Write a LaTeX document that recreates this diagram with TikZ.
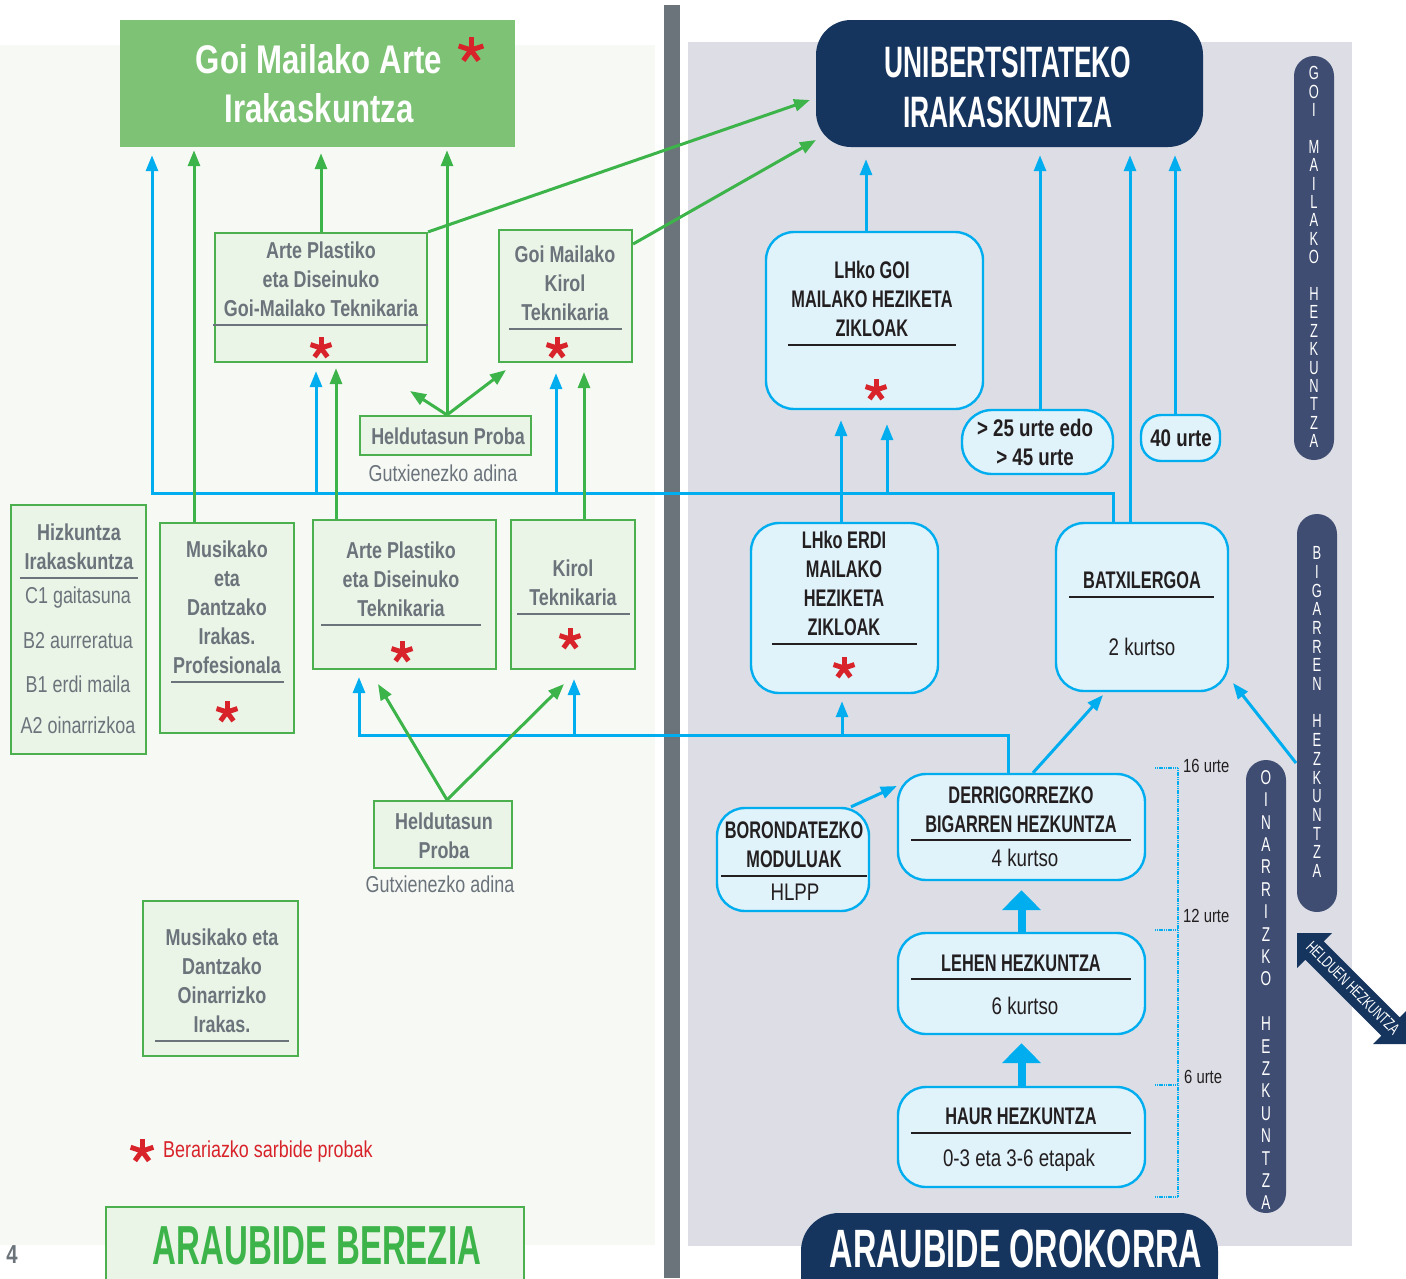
\documentclass[tikz,border=0pt]{standalone}
\usepackage{fontspec}
\setmainfont{Liberation Sans}[FakeStretch=0.78]
\newfontfamily\capf{Liberation Sans}[FakeStretch=0.68]
\newfontfamily\bigf{Liberation Sans}[FakeStretch=0.6]
\usetikzlibrary{arrows.meta}
\definecolor{leftbg}{HTML}{F7F9F5}
\definecolor{rightbg}{HTML}{DCDDE5}
\definecolor{divgray}{HTML}{6B747A}
\definecolor{gfill}{HTML}{EAF4E7}
\definecolor{gline}{HTML}{4CB04F}
\definecolor{gtitle}{HTML}{7EC275}
\definecolor{gtxt}{HTML}{6B737B}
\definecolor{navy}{HTML}{15345E}
\definecolor{barnavy}{HTML}{3F4D72}
\definecolor{cyanl}{HTML}{00AEEF}
\definecolor{cfill}{HTML}{E0F2FA}
\definecolor{astred}{HTML}{D8232A}
\definecolor{dtxt}{HTML}{231F20}
\definecolor{agreen}{HTML}{3DB449}
\newcommand\redstar[3]{%
  \foreach \aa in {270,342,54,126,198}{\draw[astred,line width=5pt,shift={(#1,#2)}] (0,0) -- (\aa:#3);}}
\tikzset{
  gbox/.style={draw=gline, fill=gfill, line width=2.2pt, inner sep=0pt},
  cbox/.style={draw=cyanl, fill=cfill, line width=2.4pt, rounded corners=28pt, inner sep=0pt},
  ltxt/.style={align=center, text=gtxt, font=\bfseries\fontsize{23}{29}\selectfont, inner sep=0pt},
  lreg/.style={align=center, text=gtxt, font=\fontsize{23}{29}\selectfont, inner sep=0pt},
  rtxt/.style={align=center, text=dtxt, font=\capf\bfseries\fontsize{24}{29}\selectfont, inner sep=0pt},
  rreg/.style={align=center, text=dtxt, font=\fontsize{24}{29}\selectfont, inner sep=0pt},
  rbold/.style={align=center, text=dtxt, font=\bfseries\fontsize{24}{29}\selectfont, inner sep=0pt},
  gdiv/.style={draw=gtxt, line width=2.8pt},
  cdiv/.style={draw=dtxt, line width=2.8pt},
  cyarr/.style={draw=cyanl, line width=3pt, -{Triangle[length=16pt,width=12pt]}},
  grarr/.style={draw=agreen, line width=3pt, -{Triangle[length=16pt,width=12pt]}},
  vbar/.style={fill=barnavy, rounded corners=20pt, minimum width=40pt, inner sep=0pt},
  vtxt/.style={align=center, text=white, inner sep=0pt},
  bigarr/.style={draw=cyanl, line width=8pt, -{Triangle[length=20pt,width=38pt]}},
  agetxt/.style={anchor=west, text=dtxt, font=\fontsize{19}{19}\selectfont, inner sep=0pt},
}
\begin{document}
\begin{tikzpicture}[x=1pt,y=-1pt]
\useasboundingbox (0,0) rectangle (1406,1278);
% backgrounds
\fill[leftbg] (0,45) rectangle (655,1245);
\fill[rightbg] (688,42) rectangle (1352,1246);
\fill[divgray] (664,5) rectangle (680,1278);

% ---------- left panel ----------
\node[fill=gtitle, minimum width=395pt, minimum height=127pt, inner sep=0pt] (gma) at (317.5,83.5) {};
\node[align=center, text=white, font=\bfseries\fontsize{40}{49}\selectfont, inner sep=0pt] (gmat) at (319,84) {Goi Mailako Arte\\Irakaskuntza};
\redstar{471}{50}{13}

\node[gbox, minimum width=212pt, minimum height=129pt] (apgm) at (321,297.5) {};
\node[ltxt] (apgmt) at (321,279) {Arte Plastiko\\eta Diseinuko\\Goi-Mailako Teknikaria};
\draw[gdiv] (213,325) -- (428,325);
\redstar{321}{348}{11}

\node[gbox, minimum width=133pt, minimum height=132pt] (gmkt) at (565.5,296) {};
\node[ltxt] (gmktt) at (565,283) {Goi Mailako\\Kirol\\Teknikaria};
\draw[gdiv] (509,329) -- (622,329);
\redstar{557}{348}{11}

\node[gbox, minimum width=171pt, minimum height=39pt] (hp1) at (445.5,435.5) {};
\node[ltxt] (hp1t) at (448,436) {Heldutasun Proba};
\node[lreg] (hp1a) at (443,473) {Gutxienezko adina};

\node[gbox, minimum width=135pt, minimum height=249pt] (hizk) at (78.5,629.5) {};
\node[ltxt] (hizkt) at (79,546.5) {Hizkuntza\\Irakaskuntza};
\draw[gdiv] (20,578) -- (138,578);
\node[lreg] (c1) at (78,598) {C1 gaitasuna};
\node[lreg] (b2) at (78,641) {B2 aurreratua};
\node[lreg] (b1) at (78,684) {B1 erdi maila};
\node[lreg] (a2) at (78,725) {A2 oinarrizkoa};

\node[gbox, minimum width=134pt, minimum height=210pt] (mdp) at (227,628) {};
\node[ltxt] (mdpt) at (227,607.5) {Musikako\\eta\\Dantzako\\Irakas.\\Profesionala};
\draw[gdiv] (171,682) -- (284,682);
\redstar{227}{712}{11}

\node[gbox, minimum width=183pt, minimum height=149pt] (apt) at (404.5,594.5) {};
\node[ltxt] (aptt) at (401,579) {Arte Plastiko\\eta Diseinuko\\Teknikaria};
\draw[gdiv] (321,625) -- (481,625);
\redstar{402}{652}{11}

\node[gbox, minimum width=124pt, minimum height=149pt] (kt) at (573,594.5) {};
\node[ltxt] (ktt) at (573,582.5) {Kirol\\Teknikaria};
\draw[gdiv] (517,614) -- (630,614);
\redstar{570}{639}{11}

\node[gbox, minimum width=138pt, minimum height=67pt] (hp2) at (443,834.5) {};
\node[ltxt] (hp2t) at (444,835.5) {Heldutasun\\Proba};
\node[lreg] (hp2a) at (440,884) {Gutxienezko adina};

\node[gbox, minimum width=155pt, minimum height=155pt] (mdo) at (220.5,978.5) {};
\node[ltxt] (mdot) at (222,981) {Musikako eta\\Dantzako\\Oinarrizko\\Irakas.};
\draw[gdiv] (155,1041) -- (289,1041);

\redstar{142}{1151}{12}
\node[anchor=west, text=astred, font=\fontsize{23}{29}\selectfont, inner sep=0pt] (legend) at (163,1152) {Berariazko sarbide probak};

\node[gbox, minimum width=418pt, minimum height=90pt] (aber) at (315,1252) {};
\node[text=agreen, font=\bigf\bfseries\fontsize{55}{55}\selectfont, inner sep=0pt] (abert) at (317,1246) {ARAUBIDE BEREZIA};
\node[text=gtxt, font=\bfseries\fontsize{26}{26}\selectfont, inner sep=0pt] (pg) at (12,1255) {4};

% ---------- right panel ----------
\node[fill=navy, rounded corners=35pt, minimum width=387pt, minimum height=127pt, inner sep=0pt] (univ) at (1009.5,83.5) {};
\node[align=center, text=white, font=\bigf\bfseries\fontsize{44}{50}\selectfont, inner sep=0pt] (univt) at (1008,87) {UNIBERTSITATEKO\\IRAKASKUNTZA};

\node[cbox, minimum width=217pt, minimum height=177pt] (lgoi) at (874.5,320.5) {};
\node[rtxt] (lgoit) at (872,299) {LHko GOI\\MAILAKO HEZIKETA\\ZIKLOAK};
\draw[cdiv] (788,345) -- (956,345);
\redstar{876}{390}{11}

\node[cbox, rounded corners=30pt, minimum width=151pt, minimum height=64pt] (age25) at (1037.5,442) {};
\node[rbold] (age25t) at (1035,442.5) {> 25 urte edo\\> 45 urte};
\node[cbox, rounded corners=20pt, minimum width=79pt, minimum height=46pt] (age40) at (1180.5,438) {};
\node[rbold] (age40t) at (1181,438) {40 urte};

\node[cbox, minimum width=187pt, minimum height=170pt] (lerdi) at (844.5,608) {};
\node[rtxt] (lerdit) at (844,583.5) {LHko ERDI\\MAILAKO\\HEZIKETA\\ZIKLOAK};
\draw[cdiv] (772,644) -- (917,644);
\redstar{844}{668}{11}

\node[cbox, minimum width=172pt, minimum height=168pt] (batx) at (1142,607) {};
\node[rtxt] (batxt) at (1142,580) {BATXILERGOA};
\draw[cdiv] (1069,597) -- (1214,597);
\node[rreg] (batxk) at (1142,647) {2 kurtso};

\node[cbox, minimum width=152pt, minimum height=103pt] (boron) at (793,859.5) {};
\node[rtxt] (boront) at (794,844.5) {BORONDATEZKO\\MODULUAK};
\draw[cdiv] (721,876) -- (867,876);
\node[rreg] (hlpp) at (795,892) {HLPP};

\node[cbox, minimum width=247pt, minimum height=106pt] (dbh) at (1021.5,827) {};
\node[rtxt] (dbht) at (1021,809.5) {DERRIGORREZKO\\BIGARREN HEZKUNTZA};
\draw[cdiv] (911,840) -- (1131,840);
\node[rreg] (dbhk) at (1025,858) {4 kurtso};

\node[cbox, minimum width=247pt, minimum height=101pt] (lehen) at (1021.5,983.5) {};
\node[rtxt] (lehent) at (1021,963) {LEHEN HEZKUNTZA};
\draw[cdiv] (911,979) -- (1131,979);
\node[rreg] (lehenk) at (1025,1006) {6 kurtso};

\node[cbox, minimum width=247pt, minimum height=100pt] (haur) at (1021.5,1137) {};
\node[rtxt] (haurt) at (1021,1116) {HAUR HEZKUNTZA};
\draw[cdiv] (911,1133) -- (1131,1133);
\node[rreg] (haurk) at (1019,1160) {0-3 eta 3-6 etapak};

\draw[bigarr, shorten >=9pt] (lehen.north) -- (dbh.south);
\draw[bigarr, shorten >=8pt] (haur.north) -- (lehen.south);

\node[fill=navy, rounded corners=38pt, minimum width=417pt, minimum height=100pt, inner sep=0pt] (aob) at (1009.5,1263) {};
\node[text=white, font=\bigf\bfseries\fontsize{54}{54}\selectfont, inner sep=0pt] (aobt) at (1016,1249) {ARAUBIDE OROKORRA};

% vertical bars
\node[vbar, minimum height=404pt] (goibar) at (1314,258) {};
\node[vtxt, font=\capf\fontsize{19}{18.4}\selectfont] (goibart) at (1314,257) {G\\O\\I\\[18.4pt]M\\A\\I\\L\\A\\K\\O\\[18.4pt]H\\E\\Z\\K\\U\\N\\T\\Z\\A};
\node[vbar, minimum height=398pt] (bigbar) at (1317,713) {};
\node[vtxt, font=\capf\fontsize{19}{18.7}\selectfont] (bigbart) at (1317,712) {B\\I\\G\\A\\R\\R\\E\\N\\[18.7pt]H\\E\\Z\\K\\U\\N\\T\\Z\\A};
\node[vbar, minimum height=453pt] (oinbar) at (1266,986.5) {};
\node[vtxt, font=\capf\fontsize{20}{22.4}\selectfont] (oinbart) at (1266,990) {O\\I\\N\\A\\R\\R\\I\\Z\\K\\O\\[22.4pt]H\\E\\Z\\K\\U\\N\\T\\Z\\A};

% helduen hezkuntza double arrow
\fill[navy] (1297,933) -- (1332,933) -- (1323.7,941.3) -- (1399.7,1017.3) -- (1408,1009) -- (1408,1044) -- (1373,1044) -- (1381.3,1035.7) -- (1305.3,959.7) -- (1297,968) -- cycle;
\node[rotate=-45, text=white, font=\capf\fontsize{16.5}{16.5}\selectfont, inner sep=0pt] (helduen) at (1353,988) {HELDUEN HEZKUNTZA};

% age bracket
\draw[cyanl, line width=2pt, dash pattern=on 1.2pt off 0.6pt] (1178,768) -- (1178,1197);
\foreach \yy in {768,930,1085,1197}{\draw[cyanl, line width=2pt, dash pattern=on 1.2pt off 0.6pt] (1155,\yy) -- (1178,\yy);}
\node[agetxt] (a16) at (1183,766) {16 urte};
\node[agetxt] (a12) at (1183,916) {12 urte};
\node[agetxt] (a6) at (1184,1077) {6 urte};

% ---------- connectors ----------
\coordinate (jA) at (1113,493);
\coordinate (jAl) at (152,493);
\coordinate (b316) at (316,493);
\coordinate (b556) at (556,493);
\coordinate (b841) at (841,493);
\coordinate (b887) at (887,493);
\coordinate (u866) at (866,200);
\coordinate (u1040) at (1040,200);
\coordinate (u1130) at (1130,200);
\coordinate (u1175) at (1175,200);
\coordinate (jB) at (1008,735);
\coordinate (jBl) at (359,735);
\coordinate (b574) at (574,735);
\coordinate (b842) at (842,735);
\coordinate (x1033) at (1033,700);
\coordinate (bt1) at (1103,695);
\coordinate (bbs) at (1296,763);
\coordinate (bbt) at (1233,683);
\coordinate (x851) at (851,800);
\coordinate (y786) at (880,786);

\draw[cyarr, shorten >=8pt] (batx.north -| jA) -- (jA) -- (jAl) -- (jAl |- gma.south);
\draw[cyarr, shorten >=8pt] (b316) -- (b316 |- apgm.south);
\draw[cyarr, shorten >=10pt] (b556) -- (b556 |- gmkt.south);
\draw[cyarr, shorten >=10pt] (lerdi.north -| b841) -- (b841 |- lgoi.south);
\draw[cyarr, shorten >=14pt] (b887) -- (b887 |- lgoi.south);
\draw[cyarr, shorten >=12pt] (lgoi.north -| u866) -- (univ.south -| u866);
\draw[cyarr, shorten >=8pt] (age25.north -| u1040) -- (univ.south -| u1040);
\draw[cyarr, shorten >=8pt] (batx.north -| u1130) -- (univ.south -| u1130);
\draw[cyarr, shorten >=8pt] (age40.north -| u1175) -- (univ.south -| u1175);
\draw[cyarr, shorten >=7pt] (dbh.north -| jB) -- (jB) -- (jBl) -- (jBl |- apt.south);
\draw[cyarr, shorten >=9pt] (b574) -- (b574 |- kt.south);
\draw[cyarr, shorten >=7pt] (b842) -- (b842 |- lerdi.south);
\draw[cyarr] (dbh.north -| x1033) -- (bt1);
\draw[cyarr] (bbs) -- (bbt);
\draw[cyarr] (boron.north -| x851) -- (dbh.west |- y786);

\coordinate (g194) at (194,300);
\coordinate (g447) at (447,300);
\coordinate (g336) at (336,450);
\coordinate (g584) at (584,450);
\coordinate (t410) at (410,391);
\coordinate (t506) at (506,370);
\coordinate (t810) at (810,100);
\coordinate (t816) at (816,140);
\coordinate (y243) at (600,244);
\coordinate (t378) at (378,684);
\coordinate (t564) at (564,684);
\draw[grarr, shorten >=3pt] (mdp.north -| g194) -- (gma.south -| g194);
\draw[grarr, shorten >=6pt] (apgm.north) -- (gma.south -| apgm.north);
\draw[grarr, shorten >=3pt] (hp1.north -| g447) -- (gma.south -| g447);
\draw[grarr] (hp1.north -| g447) -- (t410);
\draw[grarr] (hp1.north -| g447) -- (t506);
\draw[grarr] (apgm.north east) -- (t810);
\draw[grarr] (gmkt.east |- y243) -- (t816);
\draw[grarr, shorten >=5pt] (apt.north -| g336) -- (apgm.south -| g336);
\draw[grarr, shorten >=9pt] (kt.north -| g584) -- (gmkt.south -| g584);
\draw[grarr] (hp2.north -| g447) -- (t378);
\draw[grarr] (hp2.north -| g447) -- (t564);
\end{tikzpicture}
\end{document}
